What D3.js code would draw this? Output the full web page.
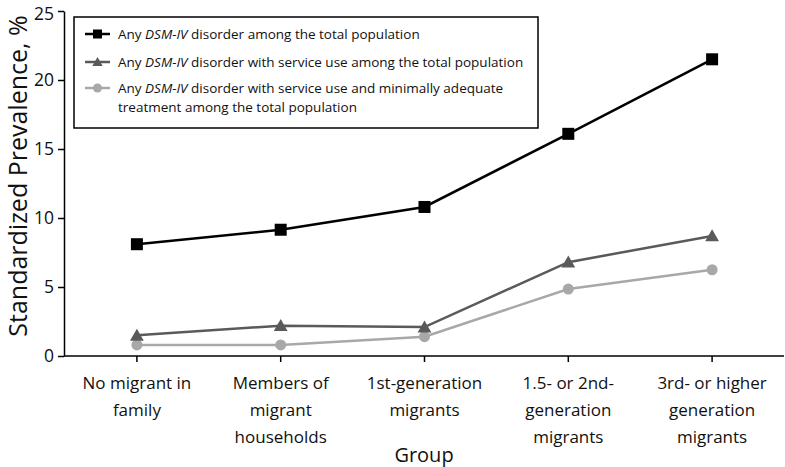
<!DOCTYPE html>
<html>
<head>
<meta charset="utf-8">
<script src="https://cdn.jsdelivr.net/npm/d3@7"></script>
<style>
  body { margin: 0; background: #fff; }
  text { font-family: "Open Sans", sans-serif; }
</style>
</head>
<body>
<script>
// --- Data ---
const groups = [
  ["No migrant in", "family"],
  ["Members of", "migrant", "households"],
  ["1st-generation", "migrants"],
  ["1.5- or 2nd-", "generation", "migrants"],
  ["3rd- or higher", "generation", "migrants"]
];
const anyDisorder = [8.1, 9.15, 10.8, 16.1, 21.5];
const withService = [1.5, 2.2, 2.1, 6.8, 8.7];
const adequateTreatment = [0.8, 0.8, 1.4, 4.85, 6.25];
const yTicks = [0, 5, 10, 15, 20, 25];

const series = [
  { name: "black", values: anyDisorder, color: "#000", marker: "square" },
  { name: "dark", values: withService, color: "#5a5a5a", marker: "triangle" },
  { name: "light", values: adequateTreatment, color: "#a8a8a8", marker: "circle" }
];

// --- Constants ---
const W = 785, H = 467;
const X0 = 64, X1 = 784, Y0 = 356, Y1 = 11;

const svg = d3.select("body").append("svg")
  .attr("width", W).attr("height", H);

const x = d3.scaleBand().domain(d3.range(groups.length)).range([X0 + 1, X1]);
const y = d3.scaleLinear().domain([0, 25]).range([Y0, Y1]);

// Y axis
const yAxis = svg.append("g")
  .attr("transform", `translate(${X0},0)`)
  .call(d3.axisLeft(y).tickValues(yTicks).tickSize(6).tickSizeOuter(0));
yAxis.select(".domain").attr("stroke-width", 1.5);
yAxis.selectAll(".tick line").attr("stroke-width", 1.5);
yAxis.selectAll(".tick text")
  .attr("font-family", "Open Sans, sans-serif")
  .attr("font-size", 17.5).attr("fill", "#111").attr("x", -10)
  .attr("dy", d => d === 25 ? "0.5em" : "0.32em");

// X axis
const xAxis = svg.append("g")
  .attr("transform", `translate(0,${Y0})`)
  .call(d3.axisBottom(x).tickSize(6).tickSizeOuter(0).tickFormat(""));
xAxis.select(".domain").attr("stroke-width", 1.5).attr("d", `M${X0},0H${X1}`);
xAxis.selectAll(".tick line").attr("stroke-width", 1.5);

// Category labels
const cx = i => x(i) + x.bandwidth() / 2;
groups.forEach((lines, i) => {
  const t = svg.append("text")
    .attr("text-anchor", "middle")
    .attr("font-size", 17)
    .attr("fill", "#111");
  lines.forEach((l, j) => {
    t.append("tspan").attr("x", cx(i)).attr("y", 389 + j * 27).text(l);
  });
});

// Axis titles
svg.append("text")
  .attr("x", (X0 + X1) / 2).attr("y", 462)
  .attr("text-anchor", "middle")
  .attr("font-size", 20).attr("fill", "#111")
  .text("Group");

svg.append("text")
  .attr("transform", `translate(27,176) rotate(-90)`)
  .attr("text-anchor", "middle")
  .attr("font-size", 25).attr("fill", "#111")
  .text("Standardized Prevalence, %");

// --- Lines and markers ---
const line = d3.line().x((d, i) => cx(i)).y(d => y(d));

function drawMarker(g, type, px, py, color, s) {
  if (type === "square") {
    g.append("rect").attr("x", px - s).attr("y", py - s)
      .attr("width", 2 * s).attr("height", 2 * s).attr("fill", color);
  } else if (type === "triangle") {
    g.append("path")
      .attr("d", `M${px},${py - s * 1.1}L${px + s * 1.15},${py + s * 0.9}L${px - s * 1.15},${py + s * 0.9}Z`)
      .attr("fill", color);
  } else {
    g.append("circle").attr("cx", px).attr("cy", py).attr("r", s).attr("fill", color);
  }
}

const sizes = { square: 6, triangle: 6, circle: 5.5 };

series.slice().reverse().forEach(s => {
  const g = svg.append("g");
  g.append("path")
    .attr("d", line(s.values))
    .attr("fill", "none")
    .attr("stroke", s.color)
    .attr("stroke-width", 2.5);
  s.values.forEach((v, i) => drawMarker(g, s.marker, cx(i), y(v), s.color, sizes[s.marker]));
});

// --- Legend ---
const legend = svg.append("g");
legend.append("rect")
  .attr("x", 74).attr("y", 17)
  .attr("width", 464).attr("height", 111)
  .attr("fill", "#fff").attr("stroke", "#000").attr("stroke-width", 1.5);

const legendRows = [
  { s: series[0], lines: [["Any ", "DSM-IV", " disorder among the total population"]], y: 34 },
  { s: series[1], lines: [["Any ", "DSM-IV", " disorder with service use among the total population"]], y: 62 },
  { s: series[2], lines: [["Any ", "DSM-IV", " disorder with service use and minimally adequate"], ["treatment among the total population"]], y: 88 }
];

legendRows.forEach(r => {
  legend.append("line")
    .attr("x1", 85).attr("x2", 110)
    .attr("y1", r.y).attr("y2", r.y)
    .attr("stroke", r.s.color).attr("stroke-width", 2.5);
  drawMarker(legend, r.s.marker, 97.5, r.y, r.s.color, 4.5);
  r.lines.forEach((parts, j) => {
    const t = legend.append("text")
      .attr("x", 118).attr("y", r.y + 5 + j * 19)
      .attr("font-size", 13.5).attr("fill", "#111");
    parts.forEach((p, k) => {
      t.append("tspan").attr("font-style", k === 1 ? "italic" : null).text(p);
    });
  });
});
</script>
</body>
</html>
